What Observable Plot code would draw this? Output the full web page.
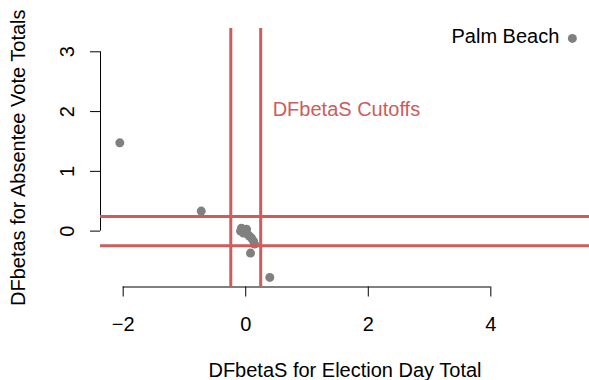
<!DOCTYPE html>
<html>
<head>
<meta charset="utf-8">
<script src="https://cdn.jsdelivr.net/npm/d3@7"></script>
<script src="https://cdn.jsdelivr.net/npm/@observablehq/plot@0.6"></script>
<style>
  html, body { margin: 0; padding: 0; background: #fff; }
  #chart svg { display: block; }
</style>
</head>
<body>
<div id="chart"></div>
<script>
// DFbetaS values
const dfbetaElection = [5.33, -2.055, -0.726, 0.393, -0.085, -0.07, -0.052, -0.036, -0.02, 0.013, -0.003, 0.03, 0.06, 0.095, 0.127, 0.144, 0.078];
const dfbetaAbsentee = [3.224, 1.477, 0.335, -0.775, 0.0, 0.05, 0.033, -0.033, 0.017, 0.033, -0.017, -0.05, -0.084, -0.117, -0.167, -0.217, -0.368];
const labelled = ["Palm Beach"];
const cutoff = 0.244; // 2/sqrt(n)
const xTicks = [-2, 0, 2, 4];
const yTicks = [0, 1, 2, 3];
const xDomain = [-2.37, 5.61];
const yDomain = [-0.935, 3.39];

const pts = dfbetaElection.map((x, i) => ({x, y: dfbetaAbsentee[i], name: i === 0 ? labelled[0] : ""}));

const red = "#CD5C5C";
const gray = "#808080";
const font = "'Liberation Sans', Arial, Helvetica, sans-serif";
const fs = 20;

const plot = Plot.plot({
  width: 589,
  height: 380,
  marginLeft: 100,
  marginRight: 0,
  marginTop: 28,
  marginBottom: 93.5,
  style: {fontFamily: font, fontSize: fs + "px", color: "#000", background: "#fff"},
  x: {domain: xDomain},
  y: {domain: yDomain},
  marks: [
    Plot.axisX({ticks: xTicks, tickFormat: d3.format("d"), tickSize: 10, tickPadding: 20, label: null, fontSize: fs, stroke: "#000"}),
    Plot.axisY({ticks: yTicks, tickFormat: d3.format("d"), tickSize: 10, tickPadding: 17, tickRotate: -90, label: null, fontSize: fs, stroke: "#000"}),
    Plot.ruleY([yDomain[0]], {x1: xTicks[0], x2: xTicks[xTicks.length - 1], stroke: "#000", strokeWidth: 1}),
    Plot.ruleX([xDomain[0]], {y1: yTicks[0], y2: yTicks[yTicks.length - 1], stroke: "#000", strokeWidth: 1}),
    Plot.dot(pts, {x: "x", y: "y", r: 4.5, fill: gray, stroke: null}),
    Plot.ruleX([-cutoff, cutoff], {stroke: red, strokeWidth: 3}),
    Plot.ruleY([-cutoff, cutoff], {stroke: red, strokeWidth: 3}),
    Plot.text(pts.filter(d => d.name), {x: "x", y: "y", text: "name", textAnchor: "end", dx: -13, dy: -1.5, fill: "#000", fontSize: fs}),
    Plot.text(["DFbetaS Cutoffs"], {x: () => cutoff, y: () => 2, text: d => d, textAnchor: "start", dx: 12, dy: -2, fill: red, fontSize: fs}),
    Plot.text(["DFbetaS for Election Day Total"], {frameAnchor: "bottom", text: d => d, textAnchor: "middle", lineAnchor: "top", dy: 76, fill: "#000", fontSize: fs}),
    Plot.text(["DFbetas for Absentee Vote Totals"], {frameAnchor: "left", text: d => d, rotate: -90, textAnchor: "middle", lineAnchor: "middle", dx: -82, fill: "#000", fontSize: fs})
  ]
});
document.getElementById("chart").appendChild(plot);
</script>
</body>
</html>
